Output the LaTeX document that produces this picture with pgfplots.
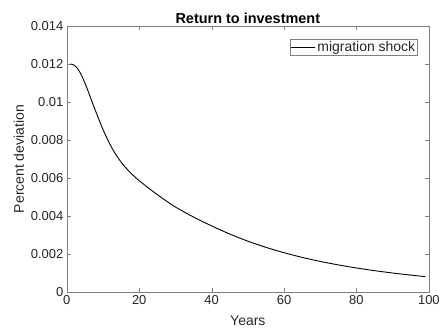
\documentclass[border=0pt]{standalone}
\usepackage{fontspec}
\setmainfont{Liberation Sans}
\usepackage{pgfplots}
\pgfplotsset{compat=1.18}

\definecolor{mltext}{rgb}{0.15,0.15,0.15}
\definecolor{mlaxis}{rgb}{0.5,0.5,0.5}

\pgfplotstableread{
year value
1  0.012000
2  0.011940
3  0.011750
4  0.011430
5  0.011000
6  0.010510
7  0.010000
8  0.009500
9  0.009015
10 0.008555
11 0.008130
12 0.007745
13 0.007405
14 0.007105
15 0.006840
16 0.006605
17 0.006395
18 0.006205
19 0.006030
20 0.005865
22 0.005560
24 0.005268
26 0.004991
28 0.004729
30 0.004480
35 0.003953
40 0.003488
45 0.003060
50 0.002685
55 0.002360
60 0.002077
65 0.001832
70 0.001620
75 0.001436
80 0.001275
85 0.001134
90 0.001010
95 0.000900
99 0.000821
}\shockdata

\begin{document}
\begin{tikzpicture}
\begin{axis}[
    scale only axis,
    width=363pt,
    height=267pt,
    xmin=0, xmax=100,
    ymin=0, ymax=0.014,
    xtick={0,20,...,100},
    ytick={0,0.002,0.004,0.006,0.008,0.01,0.012,0.014},
    scaled y ticks=false,
    yticklabel style={/pgf/number format/fixed, /pgf/number format/precision=3},
    /pgf/number format/assume math mode=true,
    tick align=inside,
    major tick length=4pt,
    axis line style={mlaxis},
    tick style={mlaxis},
    ticklabel style={font=\fontsize{13}{15}\selectfont, text=mltext},
    title={\textbf{Return to investment}},
    title style={font=\fontsize{14.5}{16}\selectfont, yshift=-7pt},
    xlabel={Years},
    ylabel={Percent deviation},
    label style={font=\fontsize{14}{16}\selectfont, text=mltext},
    xlabel style={yshift=-4pt},
    ylabel style={yshift=0pt},
    legend style={at={(rel axis cs:1,1)}, anchor=north east, xshift=-11pt, yshift=-13pt,
        draw=mlaxis, font=\fontsize{14}{16}\selectfont, text=mltext,
        inner sep=0.5pt, row sep=0pt},
    legend cell align=left,
    legend image code/.code={\draw[#1] (0pt,0pt) -- (24pt,0pt);},
]
\addplot[black, line width=0.9pt, smooth] table[x=year, y=value] {\shockdata};
\legend{migration shock}
\end{axis}
\path (current axis.south west) ++(-67pt,-40pt) rectangle ++(443pt,333pt);
\end{tikzpicture}
\end{document}
